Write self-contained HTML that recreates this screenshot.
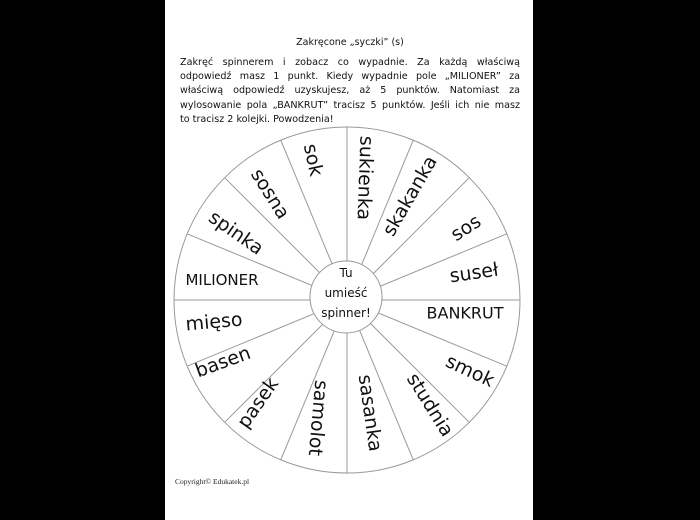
<!DOCTYPE html>
<html><head><meta charset="utf-8"><style>
html,body{margin:0;padding:0;background:#000;width:700px;height:520px;overflow:hidden}
.page{position:absolute;left:165px;top:0;width:368px;height:520px;background:#fff}
.t{position:absolute;font-family:"DejaVu Sans","Liberation Sans",sans-serif;color:#111}
.p{position:absolute;left:180px;top:56px;width:340px;font-family:"DejaVu Sans","Liberation Sans",sans-serif;font-size:9.6px;line-height:14.2px;color:#111}
.p div{text-align:justify;text-align-last:justify;white-space:nowrap}
.p div.l{text-align-last:left}
</style></head><body>
<div class="page"></div>
<div class="t" style="left:0;width:700px;top:37px;text-align:center;font-size:9.5px">Zakręcone „syczki” (s)</div>
<div class="p">
<div>Zakręć spinnerem i zobacz co wypadnie. Za każdą właściwą</div>
<div>odpowiedź masz 1 punkt. Kiedy wypadnie pole „MILIONER” za</div>
<div>właściwą odpowiedź uzyskujesz, aż 5 punktów. Natomiast za</div>
<div>wylosowanie pola „BANKRUT” tracisz 5 punktów. Jeśli ich nie masz</div>
<div class="l">to tracisz 2 kolejki. Powodzenia!</div>
</div>
<svg width="700" height="520" style="position:absolute;left:0;top:0">
<g stroke="#999" stroke-width="1" fill="none">
<circle cx="347" cy="300" r="173" fill="#fff"/>
<line x1="347" y1="127" x2="347" y2="473"/>
<line x1="347" y1="127" x2="347" y2="473" transform="rotate(22.5 347 300)"/>
<line x1="347" y1="127" x2="347" y2="473" transform="rotate(45 347 300)"/>
<line x1="347" y1="127" x2="347" y2="473" transform="rotate(67.5 347 300)"/>
<line x1="347" y1="127" x2="347" y2="473" transform="rotate(90 347 300)"/>
<line x1="347" y1="127" x2="347" y2="473" transform="rotate(112.5 347 300)"/>
<line x1="347" y1="127" x2="347" y2="473" transform="rotate(135 347 300)"/>
<line x1="347" y1="127" x2="347" y2="473" transform="rotate(157.5 347 300)"/>
<circle cx="346" cy="297" r="36" fill="#fff"/>
</g>
<g font-family="DejaVu Sans, Liberation Sans, sans-serif" font-size="19" fill="#111" text-anchor="middle" dominant-baseline="central">
<text transform="translate(313,160) rotate(78)">sok</text>
<text transform="translate(365,178) rotate(92)">sukienka</text>
<text transform="translate(410,196) rotate(-60)">skakanka</text>
<text transform="translate(466,228) rotate(-33)">sos</text>
<text transform="translate(474,273) rotate(-8)">suseł</text>
<text font-size="16" transform="translate(465,313)">BANKRUT</text>
<text transform="translate(470,371) rotate(25)">smok</text>
<text transform="translate(430,405) rotate(58)">studnia</text>
<text transform="translate(370,413) rotate(82)">sasanka</text>
<text transform="translate(318,418) rotate(95)">samolot</text>
<text transform="translate(258,403) rotate(-55)">pasek</text>
<text transform="translate(223,362) rotate(-20)">basen</text>
<text transform="translate(214,322) rotate(-5)">mięso</text>
<text font-size="15" transform="translate(222,280)">MILIONER</text>
<text transform="translate(236,233) rotate(35)">spinka</text>
<text transform="translate(270,194) rotate(58)">sosna</text>
</g>
<g font-family="DejaVu Sans, Liberation Sans, sans-serif" font-size="12" fill="#111" text-anchor="middle">
<text x="346" y="277">Tu</text>
<text x="346" y="297">umieść</text>
<text x="346" y="317">spinner!</text>
</g>
<text x="175" y="484" font-family="Liberation Serif, serif" font-size="7.5" fill="#222">Copyright© Edukatek.pl</text>
</svg>
</body></html>
